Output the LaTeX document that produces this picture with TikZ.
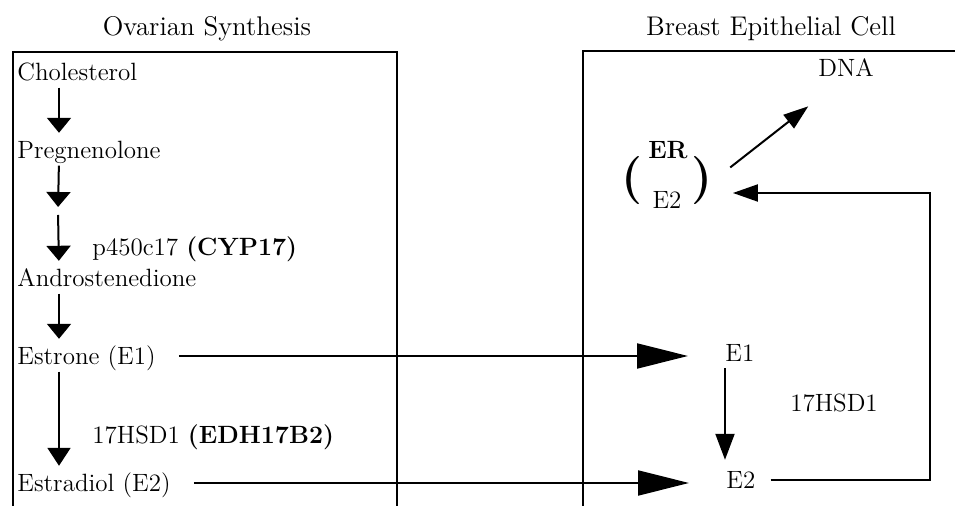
\documentclass[tikz,border=0pt]{standalone}
\usetikzlibrary{arrows.meta}
\tikzset{
  lbl/.style={inner sep=0pt, text height=8.3pt, text depth=0pt, font=\fontsize{12.5}{14}\selectfont},
  head/.style={lbl, font=\fontsize{13.5}{15}\selectfont},
  stepar/.style={line width=1pt, -{Triangle[length=7.5pt,width=12pt]}, shorten <=3.5pt, shorten >=4.25pt},
  bigar/.style={line width=1pt, -{Triangle[length=25.5pt,width=12.5pt]}},
  wall/.style={line width=0.8pt},
  paren/.style={inner sep=0pt, font=\fontsize{24}{24}\selectfont\bfseries}
}

\begin{document}
\begin{tikzpicture}[x=0.5pt, y=-0.5pt]
\useasboundingbox (0,0) rectangle (955,506);
\draw[wall] (13,506) |- (397,52) -- (397,506); % ovary box
\draw[wall] (583,506) |- (955,51); % cell box
\node[head] (ovtitle) at (207,27) {Ovarian Synthesis}; % left title
\node[head] (celltitle) at (771,27) {Breast Epithelial Cell}; % right title
% ovarian pathway
\node[lbl, anchor=west] (chol) at (17,72) {Cholesterol};
\node[lbl, anchor=west] (preg) at (17,150) {Pregnenolone};
\node[lbl, anchor=west] (andro) at (17,278) {Androstenedione};
\node[lbl, anchor=west] (estrone) at (17,356) {Estrone (E1)};
\node[lbl, anchor=west] (estradiol) at (17,483) {Estradiol (E2)};
\node[lbl, anchor=west] (cyp) at (92,247) {p450c17 \textbf{(CYP17)}};
\node[lbl, anchor=west] (hsd) at (92,435) {17HSD1 \textbf{(EDH17B2)}};
\coordinate (col) at (59,0); % arrow column
\coordinate (skip) at (58,211); % steps left out
\draw[stepar] (chol.south -| col) -- (preg.north -| col);
\draw[stepar, shorten >=2pt] (preg.south -| col) -- (skip);
\draw[stepar, shorten <=2pt] (skip) -- (andro.north -| col);
\draw[stepar] (andro.south -| col) -- (estrone.north -| col);
\draw[stepar, -{Triangle[length=9pt,width=11.5pt]}] (estrone.south -| col) -- (estradiol.north -| col);
% breast cell
\node[lbl, anchor=west] (e1) at (725,353) {E1};
\node[lbl, anchor=west] (e2cell) at (726,480) {E2};
\node[lbl] (hsdcell) at (834,403) {17HSD1};
\node[lbl] (er) at (668,150) {\textbf{ER}};
\node[lbl] (erbound) at (667,200) {E2};
\node[paren] (lpar) at (632,181) {(};
\node[paren] (rpar) at (702,181) {)};
\node[lbl, anchor=west] (dna) at (818,68) {DNA};
\coordinate (turn) at (930,193); % feedback corner
% transport into the cell
\draw[bigar, shorten <=11.5pt, shorten >=18.5pt] (estrone.east) -- (estrone.east -| e1.west);
\draw[bigar, shorten <=11.5pt, shorten >=18.5pt] (estradiol.east) -- (estradiol.east -| e2cell.west);
\draw[line width=1pt, -{Triangle[length=13pt,width=9.5pt]}, shorten <=3.25pt, shorten >=5.75pt] (e1.south west) -- (e1.south west |- e2cell.north);
\draw[line width=1pt, -{Triangle[length=12.5pt,width=8.5pt]}, shorten <=7.5pt, shorten >=10pt] (e2cell.east) -| (turn) -- (turn -| rpar.east);
\draw[line width=1pt, -{Triangle[length=12.5pt,width=8.5pt]}, shorten <=11pt, shorten >=24pt] (rpar.east) -- (dna.south);
\end{tikzpicture}
\end{document}
